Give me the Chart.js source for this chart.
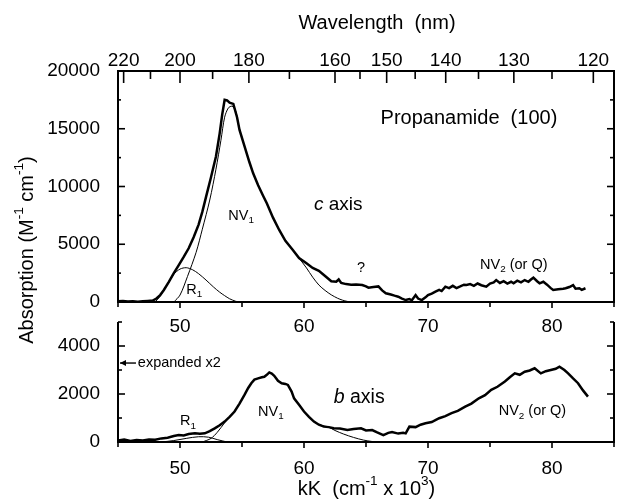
<!DOCTYPE html>
<html><head><meta charset="utf-8">
<script src="https://cdn.jsdelivr.net/npm/chart.js@4.4.1/dist/chart.umd.min.js"></script>
<style>
html,body{margin:0;padding:0;background:#fff;overflow:hidden;}
#wrap{position:relative;width:617px;height:501px;overflow:hidden;}
#wrap canvas{position:absolute;left:0;top:0;}
</style></head><body>
<div id="wrap"><canvas id="cTop" width="617" height="501"></canvas><canvas id="cBot" width="617" height="501"></canvas></div>
<script>
// ---------- DATA ----------
// c axis (top panel): measured spectrum, kK (10^3 cm^-1) vs absorption
const cAxisX = [45.0,45.4,45.8,46.2,46.6,47.0,47.4,47.8,48.1,48.4,48.7,49.1,49.5,49.9,50.3,50.7,51.1,51.5,51.8,52.1,52.5,52.9,53.2,53.4,53.6,53.8,54.0,54.3,54.6,54.8,55.2,55.6,55.9,56.3,56.7,57.0,57.5,58.0,58.5,59.1,59.6,60.2,60.7,61.2,61.7,62.2,62.6,62.8,63.0,63.4,63.8,64.2,64.7,65.0,65.2,65.6,66.0,66.3,66.6,67.0,67.3,67.6,67.9,68.2,68.5,68.7,69.0,69.2,69.5,69.8,70.0,70.3,70.6,70.9,71.1,71.4,71.7,72.0,72.3,72.6,72.9,73.1,73.4,73.7,74.0,74.3,74.7,75.0,75.3,75.5,75.8,76.1,76.4,76.7,76.9,77.2,77.5,77.8,78.1,78.3,78.5,78.8,79.0,79.3,79.6,79.9,80.1,80.5,80.9,81.1,81.4,81.7,81.9,82.2,82.4,82.7];
const cAxisY = [60,90,40,70,30,60,90,120,300,600,1040,1750,2500,3200,3900,4650,5600,6700,7800,9100,10800,12600,14600,16200,17500,17450,17250,17150,16000,14900,13500,12100,11140,10100,9200,8550,7300,6235,5300,4500,3800,3350,2950,2700,2250,1800,1750,1950,1650,1550,1500,1520,1470,1350,1240,1300,1350,1000,750,650,550,460,300,170,250,150,600,300,170,400,600,730,900,1050,950,1330,1200,1400,1210,1350,1500,1470,1550,1400,1600,1450,1330,1600,1700,1900,1650,1800,1600,1750,1620,1850,1700,1900,1750,1950,2110,1800,1620,1750,1500,1200,1040,1100,1150,1190,1300,1470,1150,1190,1050,1190];
// c axis fitted bands
const nv1cX = [49.5,50.0,50.6,51.3,51.8,52.4,52.9,53.3,53.6,53.9,54.2,54.5,54.8,55.2,55.6,55.9,56.3,56.7,57.0,57.5,58.0,58.5,59.1,59.6,60.2,60.7,61.2,61.7,62.2,62.7,63.1,63.5,63.9];
const nv1cY = [0,600,2200,4300,6300,8830,11500,14000,16000,16800,16950,16500,14900,13500,12100,11140,10100,9200,8550,7300,6235,5300,4500,3800,2950,2150,1470,1000,620,330,160,50,0];
const r1cX = [48.0,48.4,48.7,49.1,49.5,50.0,50.5,51.0,51.5,52.1,52.7,53.2,53.6,54.0,54.5,54.8];
const r1cY = [0,500,1040,1700,2400,2850,2970,2800,2450,1900,1300,850,550,280,60,0];

// b axis (bottom panel, expanded x2)
const bAxisX = [45.0,45.5,46.0,46.5,47.0,47.5,48.0,48.5,49.0,49.5,49.9,50.3,50.7,51.2,51.6,52.0,52.4,52.8,53.2,53.6,54.0,54.4,54.8,55.2,55.5,55.75,56.0,56.3,56.6,56.8,57.0,57.2,57.4,57.6,57.9,58.2,58.5,58.7,59.0,59.2,59.6,60.0,60.4,60.8,61.2,61.6,62.0,62.4,62.9,63.5,64.0,64.6,65.0,65.5,65.9,66.4,66.8,67.1,67.6,68.0,68.2,68.5,69.0,69.4,69.8,70.3,70.9,71.4,71.9,72.4,73.0,73.5,74.1,74.6,75.1,75.6,76.2,76.6,77.0,77.4,77.8,78.2,78.6,79.1,79.5,79.9,80.3,80.6,81.0,81.3,81.7,82.1,82.5,82.9];
const bAxisY = [60,100,40,80,60,100,90,150,180,250,290,270,330,360,340,360,450,570,700,850,1050,1270,1600,1960,2250,2450,2600,2650,2700,2720,2800,2900,2850,2760,2550,2450,2420,2380,2100,1820,1550,1270,1050,850,720,640,620,570,560,500,540,570,480,500,400,290,380,420,350,380,360,640,620,720,780,830,990,1080,1200,1300,1470,1600,1820,1950,2170,2300,2520,2700,2860,2800,2930,2980,3070,2860,2950,3000,3050,3140,3000,2860,2650,2450,2150,1890];
const nv1bX = [51.8,52.5,53.0,53.6,54.0,54.4,54.8,55.2,55.5,55.75,56.0,56.3,56.6,56.8,57.0,57.2,57.4,57.6,57.9,58.2,58.5,58.7,59.0,59.2,59.6,60.0,60.4,60.8,61.2,61.9,62.5,63.2,64.0,64.8,65.5,66.0];
const nv1bY = [0,150,400,800,1050,1270,1600,1960,2250,2450,2600,2650,2700,2720,2800,2900,2850,2760,2550,2450,2420,2380,2100,1820,1550,1270,1050,850,720,640,480,330,190,80,20,0];
const r1bX = [48.5,49.5,50.5,51.5,52.3,53.0,53.8];
const r1bY = [0,60,150,220,200,100,0];

// axis ticks
const kkTicks = [45,50,55,60,65,70,75,80,85];
const kkLabels = [50,60,70,80];
const wavelengthTicks = [220,210,200,190,180,170,160,155,150,145,140,135,130,125,120];
const wavelengthLabels = [220,200,180,160,150,140,130,120];
const topYTicks = [0,2500,5000,7500,10000,12500,15000,17500,20000];
const topYLabels = [0,5000,10000,15000,20000];
const botYTicks = [0,1000,2000,3000,4000,5000];
const botYLabels = [0,2000,4000];

// ---------- HELPERS ----------
const FONT = '"Liberation Sans", Arial, Helvetica, sans-serif';
const pts = (xs, ys) => xs.map((x, i) => ({x, y: ys[i]}));
function fnt(size, italic){ return (italic ? 'italic ' : '') + size + 'px ' + FONT; }
function drawRich(ctx, parts, x, y, size, align){
  const small = size * 0.68;
  let w = 0;
  const items = parts.map(p => {
    const [t, m] = p;
    const s = (m === 'sub' || m === 'sup') ? small : size;
    ctx.font = fnt(s, m === 'i');
    const wd = ctx.measureText(t).width;
    w += wd;
    return {t, m, s, wd};
  });
  let cx = align === 'center' ? x - w / 2 : (align === 'right' ? x - w : x);
  ctx.fillStyle = '#000';
  ctx.textBaseline = 'middle';
  ctx.textAlign = 'left';
  items.forEach(it => {
    ctx.font = fnt(it.s, it.m === 'i');
    let dy = 0;
    if (it.m === 'sub') dy = size * 0.32;
    if (it.m === 'sup') dy = -size * 0.38;
    ctx.fillText(it.t, cx, y + dy);
    cx += it.wd;
  });
}
function drawTicksFor(ctx, scale, values, majors, edgeCoord, horizontal, dir, lenMaj, lenMin){
  values.forEach(v => {
    const p = scale.getPixelForValue(v);
    const len = majors.includes(v) ? lenMaj : lenMin;
    ctx.beginPath();
    if (horizontal){ ctx.moveTo(p, edgeCoord); ctx.lineTo(p, edgeCoord + dir * len); }
    else { ctx.moveTo(edgeCoord, p); ctx.lineTo(edgeCoord + dir * len, p); }
    ctx.stroke();
  });
}
const fixH = h => s => { s.height = h; s.paddingLeft = 0; s.paddingRight = 0; };

// ---------- TOP CHART ----------
const topAnn = [
  {x: 73.3, y: 15850, parts: [['Propanamide  (100)','']], size: 20, align: 'center'},
  {x: 60.8, y: 8450, parts: [['c','i'],[' axis','']], size: 19, align: 'left'},
  {x: 53.9, y: 7450, parts: [['NV',''],['1','sub']], size: 14.5, align: 'left'},
  {x: 50.5, y: 1050, parts: [['R',''],['1','sub']], size: 14.5, align: 'left'},
  {x: 64.6, y: 2950, parts: [['?','']], size: 14.5, align: 'center'},
  {x: 74.2, y: 3200, parts: [['NV',''],['2','sub'],[' (or Q)','']], size: 14.5, align: 'left'}
];
const topPlugin = {
  id: 'topDeco',
  afterDraw(chart){
    const {ctx, chartArea: a, scales} = chart;
    ctx.save();
    ctx.strokeStyle = '#000';
    ctx.lineWidth = 2;
    ctx.beginPath();
    ctx.moveTo(a.left, a.top); ctx.lineTo(a.right, a.top); ctx.lineTo(a.right, a.bottom); ctx.lineTo(a.left, a.bottom); ctx.closePath();
    ctx.stroke();
    ctx.lineWidth = 1.6;
    const wl = wavelengthTicks.map(w => 10000 / w);
    const wlMaj = wavelengthLabels.map(w => 10000 / w);
    drawTicksFor(ctx, scales.xTop, wl, wlMaj, a.top, true, 1, 12, 8);
    drawTicksFor(ctx, scales.x, kkTicks, kkLabels, a.bottom, true, 1, 6, 5);
    drawTicksFor(ctx, scales.y, topYTicks, topYLabels, a.left, false, 1, 7, 3);
    drawTicksFor(ctx, scales.y, topYTicks, topYLabels, a.right, false, -1, 7, 4);
    drawRich(ctx, [['Wavelength  (nm)','']], 377, 23, 20, 'center');
    topAnn.forEach(t => drawRich(ctx, t.parts, scales.x.getPixelForValue(t.x), scales.y.getPixelForValue(t.y), t.size, t.align));
    ctx.restore();
  }
};
new Chart(document.getElementById('cTop'), {
  type: 'line',
  data: {datasets: [
    {data: pts(cAxisX, cAxisY), borderColor: '#000', borderWidth: 2.5, pointRadius: 0, tension: 0, fill: false},
    {data: pts(nv1cX, nv1cY), borderColor: '#000', borderWidth: 1, pointRadius: 0, tension: 0.3, fill: false},
    {data: pts(r1cX, r1cY), borderColor: '#000', borderWidth: 1, pointRadius: 0, tension: 0.3, fill: false}
  ]},
  options: {
    responsive: false, maintainAspectRatio: false, animation: false, devicePixelRatio: 1,
    layout: {padding: {left: 0, right: 3, top: 0, bottom: 159}},
    plugins: {legend: {display: false}, tooltip: {enabled: false}},
    scales: {
      x: {type: 'linear', position: 'bottom', min: 45, max: 85,
        afterFit: fixH(40),
        afterBuildTicks: s => { s.ticks = kkTicks.map(v => ({value: v})); },
        grid: {display: false}, border: {display: false},
        ticks: {autoSkip: false, maxRotation: 0, padding: 5, color: '#000', font: {family: FONT, size: 19},
          callback: v => kkLabels.includes(v) ? String(v) : ''}},
      xTop: {type: 'linear', position: 'top', min: 45, max: 85,
        afterFit: fixH(71),
        afterBuildTicks: s => { s.ticks = wavelengthTicks.map(w => ({value: 10000 / w})); },
        grid: {display: false}, border: {display: false},
        ticks: {autoSkip: false, maxRotation: 0, padding: -9, color: '#000', font: {family: FONT, size: 19},
          callback: v => { const w = Math.round(10000 / v); return wavelengthLabels.includes(w) ? String(w) : ''; }}},
      y: {type: 'linear', position: 'left', min: 0, max: 20000,
        afterFit: s => { s.width = 118; },
        afterBuildTicks: s => { s.ticks = topYTicks.map(v => ({value: v})); },
        grid: {display: false}, border: {display: false},
        ticks: {padding: 10, color: '#000', font: {family: FONT, size: 19},
          callback: v => topYLabels.includes(v) ? String(v) : ''}}
    }
  },
  plugins: [topPlugin]
});

// ---------- BOTTOM CHART ----------
const botAnn = [
  {x: 46.6, y: 3290, parts: [['expanded x2','']], size: 14.5, align: 'left'},
  {x: 50.0, y: 860, parts: [['R',''],['1','sub']], size: 14.5, align: 'left'},
  {x: 56.3, y: 1260, parts: [['NV',''],['1','sub']], size: 14.5, align: 'left'},
  {x: 62.4, y: 1860, parts: [['b','i'],[' axis','']], size: 19.5, align: 'left'},
  {x: 75.7, y: 1280, parts: [['NV',''],['2','sub'],[' (or Q)','']], size: 14.5, align: 'left'}
];
const botPlugin = {
  id: 'botDeco',
  afterDraw(chart){
    const {ctx, chartArea: a, scales} = chart;
    ctx.save();
    ctx.strokeStyle = '#000';
    ctx.lineWidth = 2;
    ctx.beginPath();
    ctx.moveTo(a.left, a.top); ctx.lineTo(a.left, a.bottom); ctx.lineTo(a.right, a.bottom); ctx.lineTo(a.right, a.top);
    ctx.stroke();
    ctx.lineWidth = 1.6;
    drawTicksFor(ctx, scales.x, kkTicks, kkLabels, a.bottom, true, 1, 6, 5);
    drawTicksFor(ctx, scales.y, botYTicks, botYLabels, a.left, false, 1, 7, 4);
    drawTicksFor(ctx, scales.y, botYTicks, botYLabels, a.right, false, -1, 7, 4);
    const ay = scales.y.getPixelForValue(3290);
    const ax0 = a.left + 2, ax1 = scales.x.getPixelForValue(46.45);
    ctx.lineWidth = 1.4;
    ctx.beginPath(); ctx.moveTo(ax0, ay); ctx.lineTo(ax1, ay); ctx.stroke();
    ctx.fillStyle = '#000';
    ctx.beginPath(); ctx.moveTo(ax0, ay); ctx.lineTo(ax0 + 6, ay - 3); ctx.lineTo(ax0 + 6, ay + 3); ctx.closePath(); ctx.fill();
    botAnn.forEach(t => drawRich(ctx, t.parts, scales.x.getPixelForValue(t.x), scales.y.getPixelForValue(t.y), t.size, t.align));
    drawRich(ctx, [['kK  (cm',''],['-1','sup'],[' x 10',''],['3','sup'],[')','']], 366.5, 489, 20, 'center');
    ctx.translate(27, 250);
    ctx.rotate(-Math.PI / 2);
    drawRich(ctx, [['Absorption (M',''],['-1','sup'],[' cm',''],['-1','sup'],[')','']], 0, 0, 20, 'center');
    ctx.restore();
  }
};
new Chart(document.getElementById('cBot'), {
  type: 'line',
  data: {datasets: [
    {data: pts(bAxisX, bAxisY), borderColor: '#000', borderWidth: 2.5, pointRadius: 0, tension: 0, fill: false},
    {data: pts(nv1bX, nv1bY), borderColor: '#000', borderWidth: 1, pointRadius: 0, tension: 0.3, fill: false},
    {data: pts(r1bX, r1bY), borderColor: '#000', borderWidth: 1, pointRadius: 0, tension: 0.3, fill: false}
  ]},
  options: {
    responsive: false, maintainAspectRatio: false, animation: false, devicePixelRatio: 1,
    layout: {padding: {left: 0, right: 3, top: 322, bottom: 0}},
    plugins: {legend: {display: false}, tooltip: {enabled: false}},
    scales: {
      x: {type: 'linear', position: 'bottom', min: 45, max: 85,
        afterFit: fixH(59),
        afterBuildTicks: s => { s.ticks = kkTicks.map(v => ({value: v})); },
        grid: {display: false}, border: {display: false},
        ticks: {autoSkip: false, maxRotation: 0, padding: 7, color: '#000', font: {family: FONT, size: 19},
          callback: v => kkLabels.includes(v) ? String(v) : ''}},
      y: {type: 'linear', position: 'left', min: 0, max: 5000,
        afterFit: s => { s.width = 118; },
        afterBuildTicks: s => { s.ticks = botYTicks.map(v => ({value: v})); },
        grid: {display: false}, border: {display: false},
        ticks: {padding: 10, color: '#000', font: {family: FONT, size: 19},
          callback: v => botYLabels.includes(v) ? String(v) : ''}}
    }
  },
  plugins: [botPlugin]
});
</script>
</body></html>
